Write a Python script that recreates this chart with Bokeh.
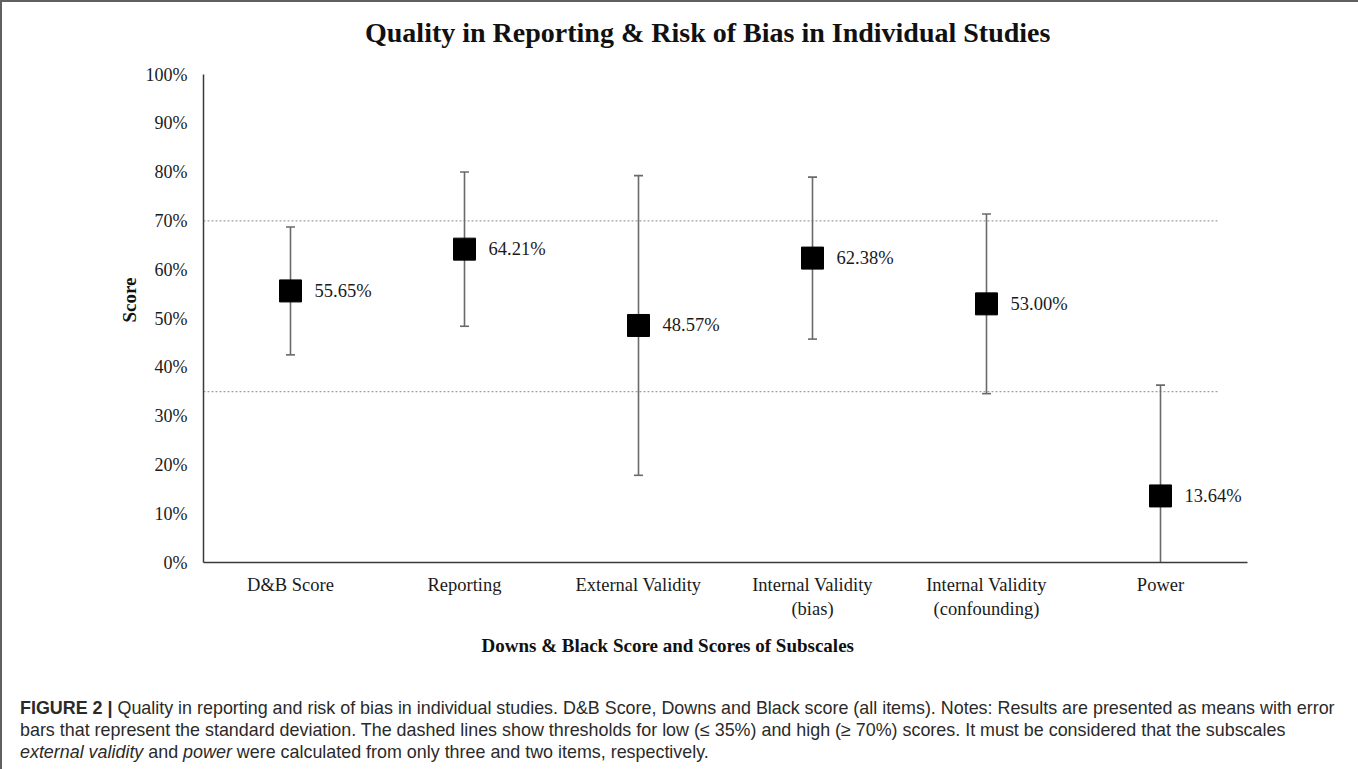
from bokeh.plotting import figure
from bokeh.models import Range1d, FixedTicker, PrintfTickFormatter, Div, Title
from bokeh.layouts import column
from bokeh.embed import file_html
from bokeh.resources import INLINE
from bokeh.core.properties import value

# ---- data ----
categories = ["D&B Score", "Reporting", "External Validity",
              "Internal Validity\n(bias)", "Internal Validity\n(confounding)", "Power"]
means = [55.65, 64.21, 48.57, 62.38, 53.00, 13.64]
sds = [13.1, 15.8, 30.7, 16.6, 18.4, 22.7]
mean_labels = ["55.65%", "64.21%", "48.57%", "62.38%", "53.00%", "13.64%"]
thresholds = [35, 70]
y_ticks = [0, 10, 20, 30, 40, 50, 60, 70, 80, 90, 100]

SERIF = "Liberation Serif"
xs = [i + 0.5 for i in range(len(categories))]
lower = [m - s for m, s in zip(means, sds)]
upper = [m + s for m, s in zip(means, sds)]

title_div = Div(text="Quality in Reporting &amp; Risk of Bias in Individual Studies",
                width=1352, height=50, margin=0,
                styles={"font-family": "'Liberation Serif', serif", "font-weight": "bold",
                        "font-size": "28px", "line-height": "34px", "color": "#111111",
                        "text-align": "left", "padding-top": "14px", "padding-left": "363px",
                        "white-space": "nowrap"})

p = figure(width=1352, height=640, x_range=Range1d(0, 6), y_range=Range1d(0, 100),
           output_backend="svg", toolbar_location=None, title=None,
           min_border_left=201, min_border_right=107, min_border_top=22, min_border_bottom=130)
p.xgrid.visible = False
p.ygrid.visible = False
p.outline_line_color = None
p.background_fill_color = "white"
p.border_fill_color = "white"

# axis titles (below / left)
p.add_layout(Title(text="Downs & Black Score and Scores of Subscales",
                   align="left", offset=278, standoff=23, text_font=SERIF,
                   text_font_style="bold", text_font_size="19px", text_color="#111111"), "below")
p.add_layout(Title(text="Score", align="right", offset=203, standoff=6, text_font=SERIF,
                   text_font_style="bold", text_font_size="19px", text_color="#111111"), "left")

# axes
p.yaxis.ticker = FixedTicker(ticks=y_ticks)
p.yaxis.formatter = PrintfTickFormatter(format="%d%%")
p.xaxis.ticker = FixedTicker(ticks=xs)
p.xaxis.major_label_overrides = {x: c for x, c in zip(xs, categories)}
for ax in (p.xaxis, p.yaxis):
    ax.major_tick_line_color = None
    ax.minor_tick_line_color = None
    ax.axis_line_color = "#3a3a3a"
    ax.axis_line_width = 1.5
    ax.major_label_text_font = SERIF
    ax.major_label_text_color = "#1a1a1a"
p.yaxis.major_label_text_font_size = "18px"
p.xaxis.major_label_text_font_size = "18.5px"
p.yaxis.major_label_standoff = 10
p.xaxis.major_label_standoff = 6

# threshold lines
p.segment(x0=[0] * len(thresholds), x1=[5.83] * len(thresholds), y0=thresholds, y1=thresholds,
          line_color="#8a8a8a", line_width=1, line_dash="2 2")

# error bars
p.segment(x0=xs, x1=xs, y0=lower, y1=upper, line_color="#6a6a6a", line_width=1.6)
p.scatter(x=xs, y=upper, marker="dash", size=9, line_color="#6a6a6a", line_width=1.6)
p.scatter(x=xs, y=lower, marker="dash", size=9, line_color="#6a6a6a", line_width=1.6)

# means
p.scatter(x=xs, y=means, marker="square", size=22, fill_color="black", line_color="black")
p.text(x=xs, y=means, text=mean_labels, x_offset=24, text_baseline="middle",
       text_font=value(SERIF), text_font_size="18.5px", text_color="#1a1a1a")

caption_html = (
    "<b>FIGURE 2 |</b> Quality in reporting and risk of bias in individual studies. D&amp;B Score, "
    "Downs and Black score (all items). Notes: Results are presented as means with error<br>"
    "bars that represent the standard deviation. The dashed lines show thresholds for low "
    "(&le; 35%) and high (&ge; 70%) scores. It must be considered that the subscales<br>"
    "<i>external validity</i> and <i>power</i> were calculated from only three and two items, respectively."
)
cap = Div(text=caption_html, width=1352, height=76,
          styles={"font-family": "'Liberation Sans', Arial, sans-serif",
                  "font-size": "17.9px", "line-height": "22px", "color": "#2a2a2a",
                  "padding-left": "13px", "padding-top": "0px", "white-space": "nowrap"})

layout = column(title_div, p, cap, spacing=0,
                styles={"border-top": "2px solid #606060", "border-left": "2px solid #606060",
                        "border-right": "2px solid #606060"})

open("out.html", "w").write(file_html(layout, INLINE))
